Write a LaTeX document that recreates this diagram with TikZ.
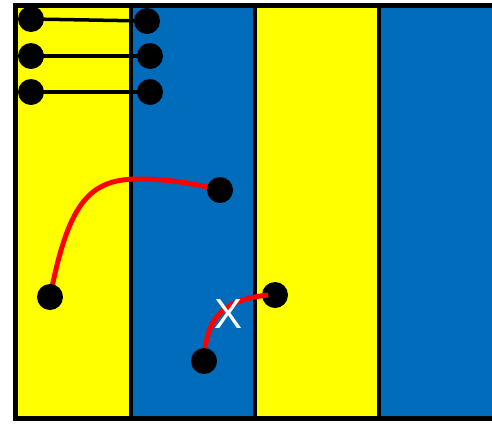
\documentclass[tikz,border=0pt]{standalone}
\usepackage{fontspec}
\setsansfont{Liberation Sans}
\definecolor{ylw}{RGB}{255,255,0}
\definecolor{blu}{RGB}{0,108,187}
\definecolor{rd}{RGB}{255,0,0}
\begin{document}
\begin{tikzpicture}[x=1pt,y=-1pt,
  dot/.style={circle,fill=black,minimum size=26pt,inner sep=0pt},
  wire/.style={line width=3.5pt,black},
  redwire/.style={line width=5pt,rd},
  divider/.style={line width=4.5pt,black}]
\useasboundingbox (0,0) rectangle (492,424);
\begin{scope}
\clip (0,0) rectangle (492,424);
\fill[ylw] (15,5) rectangle (131,418);
\fill[blu] (131,5) rectangle (255,418);
\fill[ylw] (255,5) rectangle (379,418);
\fill[blu] (379,5) rectangle (500,418);
\draw[divider] (131,5) -- (131,418);
\draw[divider] (255,5) -- (255,418);
\draw[divider] (379,5) -- (379,418);
\draw[line width=5pt,black] (510,5) -- (15,5) -- (15,418) -- (510,418);
\end{scope}
% dots
\node[dot] (a1) at (31,19) {};
\node[dot] (b1) at (147,21) {};
\node[dot] (a2) at (31,56) {};
\node[dot] (b2) at (150,56) {};
\node[dot] (a3) at (31,92) {};
\node[dot] (b3) at (150,92) {};
\draw[wire] (a1.center) -- (b1.center);
\draw[wire] (a2.center) -- (b2.center);
\draw[wire] (a3.center) -- (b3.center);
\node[dot] (e2) at (275,295) {};
\coordinate (c1p) at (50,297);
\coordinate (c2p) at (220,190);
\coordinate (e1p) at (204,361);
\draw[redwire] (c1p) .. controls (68,205) and (88,179) .. (138,179) .. controls (170,179) and (195,184) .. (c2p);
\draw[redwire] (e1p) .. controls (206,318) and (222,300) .. (268,295);
\node[dot] (c1) at (c1p) {};
\node[dot] (c2) at (c2p) {};
\node[dot] (e1) at (e1p) {};
\node[text=white,font=\sffamily\fontsize{42}{42}\selectfont] (x) at (229,314) {X};
\end{tikzpicture}
\end{document}
